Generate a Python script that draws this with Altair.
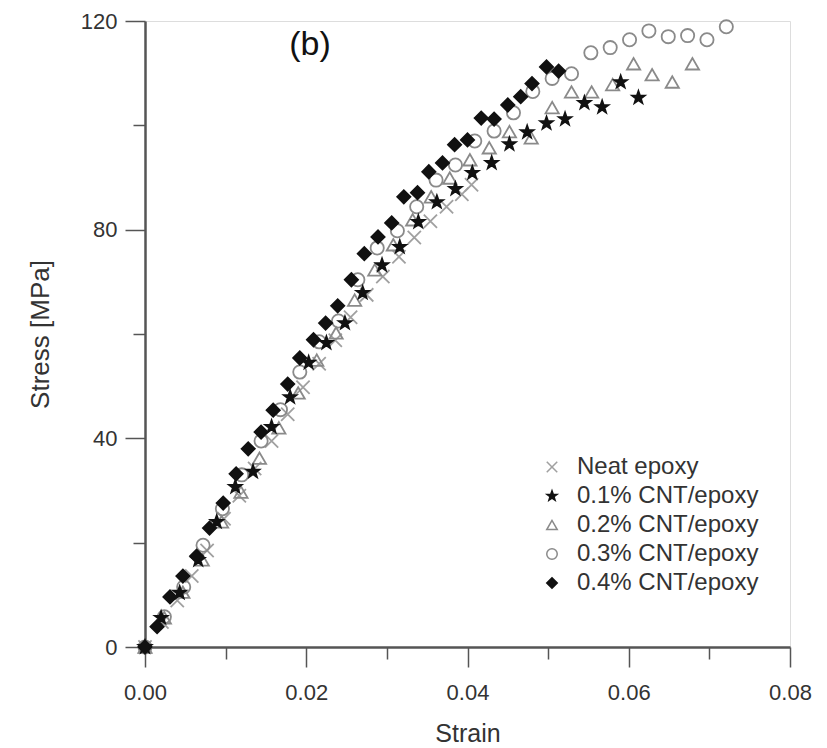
import altair as alt
import pandas as pd

series_names = ["Neat epoxy", "0.1% CNT/epoxy", "0.2% CNT/epoxy", "0.3% CNT/epoxy", "0.4% CNT/epoxy"]

neat_strain = [0.0, 0.0021, 0.0040, 0.0058, 0.0077, 0.0098, 0.0117, 0.0136, 0.0157, 0.0177, 0.0196,
               0.0216, 0.0236, 0.0255, 0.0275, 0.0295, 0.0315, 0.0334, 0.0354, 0.0374, 0.0393, 0.0405]
neat_stress = [0.0, 4.8, 8.9, 13.6, 18.5, 24.6, 29.0, 34.2, 39.5, 44.6, 49.8,
               54.3, 58.8, 63.2, 67.5, 71.0, 74.8, 78.5, 81.6, 84.4, 86.8, 88.6]

cnt01_strain = [0.0, 0.0020, 0.0043, 0.0066, 0.0089, 0.0112, 0.0134, 0.0157, 0.0180, 0.0203, 0.0225,
                0.0248, 0.0270, 0.0294, 0.0316, 0.0339, 0.0362, 0.0385, 0.0406, 0.0430, 0.0452,
                0.0474, 0.0498, 0.0521, 0.0545, 0.0567, 0.0590, 0.0612]
cnt01_stress = [0.0, 5.6, 10.4, 16.7, 24.0, 30.7, 33.6, 42.2, 47.9, 54.5, 58.3,
                62.1, 67.9, 73.2, 76.7, 81.5, 85.3, 87.8, 90.9, 92.8, 96.4,
                98.7, 100.4, 101.2, 104.3, 103.5, 108.3, 105.3]

cnt02_strain = [0.0, 0.0024, 0.0047, 0.0071, 0.0095, 0.0119, 0.0142, 0.0166, 0.0190, 0.0213, 0.0237,
                0.0260, 0.0285, 0.0308, 0.0332, 0.0355, 0.0378, 0.0403, 0.0427, 0.0452, 0.0479,
                0.0505, 0.0529, 0.0554, 0.0580, 0.0606, 0.0629, 0.0654, 0.0679]
cnt02_stress = [0.0, 5.6, 10.5, 16.7, 24.0, 29.7, 36.2, 42.0, 48.7, 55.0, 60.2,
                66.5, 72.3, 77.1, 81.9, 86.3, 89.9, 93.4, 95.7, 98.8, 97.6,
                103.4, 106.4, 106.4, 107.8, 111.8, 109.7, 108.3, 111.8]

cnt03_strain = [0.0, 0.0024, 0.0048, 0.0072, 0.0096, 0.0120, 0.0144, 0.0168, 0.0192, 0.0216, 0.0240,
                0.0264, 0.0288, 0.0313, 0.0337, 0.0361, 0.0385, 0.0409, 0.0433, 0.0457, 0.0481,
                0.0505, 0.0529, 0.0553, 0.0577, 0.0601, 0.0625, 0.0649, 0.0673, 0.0697, 0.0721]
cnt03_stress = [0.0, 5.8, 11.5, 19.5, 26.5, 33.0, 39.5, 45.5, 52.7, 58.5, 62.5,
                70.4, 76.5, 79.8, 84.4, 89.5, 92.4, 97.0, 98.9, 102.4, 106.5,
                109.0, 109.9, 113.9, 114.9, 116.4, 118.1, 117.0, 117.2, 116.4, 118.9]

cnt04_strain = [0.0, 0.0015, 0.0031, 0.0047, 0.0064, 0.0080, 0.0097, 0.0113, 0.0128, 0.0144, 0.0159,
                0.0177, 0.0192, 0.0209, 0.0224, 0.0239, 0.0256, 0.0272, 0.0289, 0.0306, 0.0321,
                0.0338, 0.0352, 0.0369, 0.0384, 0.0400, 0.0417, 0.0433, 0.0450, 0.0466, 0.0480,
                0.0498, 0.0513]
cnt04_stress = [0.0, 3.9, 9.6, 13.6, 17.4, 22.8, 27.6, 33.2, 38.0, 41.2, 45.4,
                50.4, 55.4, 58.9, 62.1, 65.4, 70.4, 75.4, 78.6, 81.3, 86.3,
                87.1, 91.1, 92.8, 96.3, 97.2, 101.4, 101.2, 103.9, 105.5, 108.0,
                111.2, 110.4]

x_major = [0.0, 0.02, 0.04, 0.06, 0.08]
x_minor = [0.01, 0.03, 0.05, 0.07]
y_major = [0, 40, 80, 120]
y_minor = [20, 60, 100]

# rows in drawing order: grey open markers underneath, black filled ones on top
rows = []
for name, xs, ys in [
    ("Neat epoxy", neat_strain, neat_stress),
    ("0.2% CNT/epoxy", cnt02_strain, cnt02_stress),
    ("0.3% CNT/epoxy", cnt03_strain, cnt03_stress),
    ("0.1% CNT/epoxy", cnt01_strain, cnt01_stress),
    ("0.4% CNT/epoxy", cnt04_strain, cnt04_stress),
]:
    for sx, sy in zip(xs, ys):
        rows.append({"series": name, "strain": sx, "stress": sy})
df = pd.DataFrame(rows)

cross_path = "M-1,-1L1,1M-1,1L1,-1"
star_path = ("M0,-1L0.235,-0.324L0.951,-0.309L0.38,0.124L0.588,0.809L0,0.4"
             "L-0.588,0.809L-0.38,0.124L-0.951,-0.309L-0.235,-0.324Z")
shapes = [cross_path, star_path, "triangle-up", "circle", "diamond"]
strokes = ["#a0a0a0", "#111111", "#8a8a8a", "#8a8a8a", "#111111"]
fills = ["transparent", "#111111", "transparent", "transparent", "#111111"]

FONT = "Liberation Sans"

legend = alt.Legend(
    title=None, orient="none", legendX=395, legendY=434,
    labelFont=FONT, labelFontSize=24, labelColor="#333333", labelLimit=0,
    symbolSize=110, symbolStrokeWidth=1.5, rowPadding=5, labelOffset=13,
)

xscale = alt.Scale(domain=[0, 0.08], nice=False, zero=False)
yscale = alt.Scale(domain=[0, 120], nice=False)

points = alt.Chart(df).mark_point(strokeWidth=1.8, opacity=1, size=175).encode(
    x=alt.X("strain:Q", scale=xscale, axis=alt.Axis(
        values=x_major, format=".2f", title="Strain", orient="bottom",
        tickSize=20, tickWidth=1.5, tickColor="#555555", labelFlush=False,
        domainColor="#555555", domainWidth=2.5, grid=False,
        labelFont=FONT, labelFontSize=22, labelColor="#333333", labelPadding=15,
        titleFont=FONT, titleFontSize=25, titleFontWeight="normal", titleColor="#333333",
        titleY=86, titleBaseline="middle",
    )),
    y=alt.Y("stress:Q", scale=yscale, axis=alt.Axis(
        values=y_major, format="d", title="Stress [MPa]", orient="left",
        tickSize=20, tickWidth=1.5, tickColor="#555555", labelFlush=False,
        domainColor="#555555", domainWidth=2.5, grid=False,
        labelFont=FONT, labelFontSize=22, labelColor="#333333", labelPadding=8,
        titleFont=FONT, titleFontSize=26, titleFontWeight="normal", titleColor="#333333",
        titleX=-105, titleY=313, titleAngle=-90, titleAlign="center", titleBaseline="middle",
    )),
    shape=alt.Shape("series:N", scale=alt.Scale(domain=series_names, range=shapes), legend=legend),
    stroke=alt.Stroke("series:N", scale=alt.Scale(domain=series_names, range=strokes), legend=legend),
    fill=alt.Fill("series:N", scale=alt.Scale(domain=series_names, range=fills), legend=legend),
)

minor = alt.Chart(df).mark_point(opacity=0).encode(
    x=alt.X("strain:Q", scale=xscale, axis=alt.Axis(
        values=x_minor, orient="bottom", labels=False, domain=False, title=None, grid=False,
        tickSize=12, tickWidth=1.5, tickColor="#555555")),
    y=alt.Y("stress:Q", scale=yscale, axis=alt.Axis(
        values=y_minor, orient="left", labels=False, domain=False, title=None, grid=False,
        tickSize=12, tickWidth=1.5, tickColor="#555555")),
)

panel_label = alt.Chart(pd.DataFrame({"label": ["(b)"]})).mark_text(
    font=FONT, fontSize=34, color="#111111", align="center", baseline="middle"
).encode(x=alt.value(165), y=alt.value(24), text="label:N")

chart = alt.layer(minor, points, panel_label).resolve_axis(
    x="independent", y="independent"
).properties(
    width=645, height=626,
    autosize=alt.AutoSizeParams(type="none"),
    padding={"left": 145, "top": 21, "right": 37, "bottom": 101},
).configure_view(stroke=None).configure(background="white")

chart.save("out.html", embed_options={"renderer": "svg", "actions": False})
